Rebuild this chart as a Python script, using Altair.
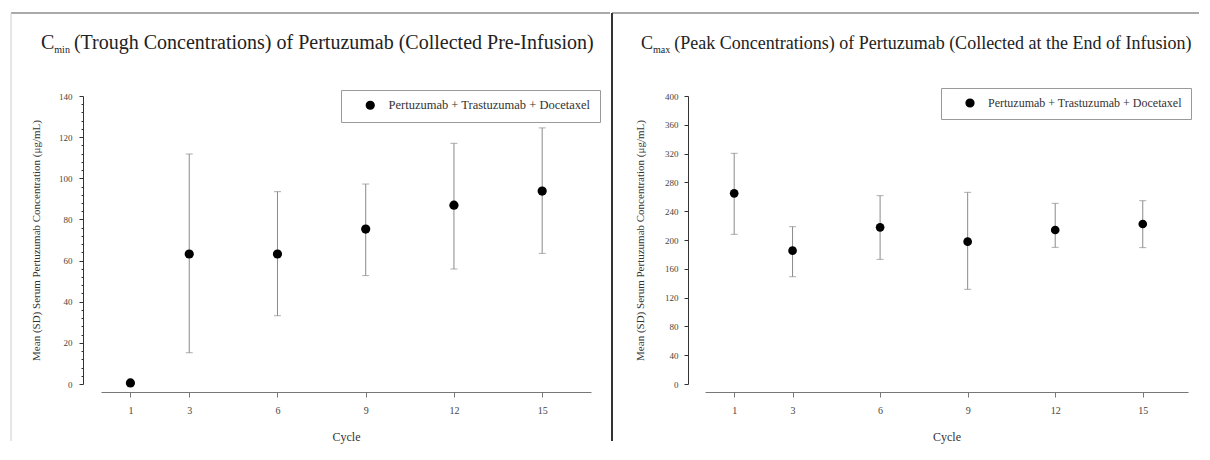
import altair as alt
import pandas as pd

# ---------------- data ----------------
cycles = [1, 3, 6, 9, 12, 15]
trough_mean = [0.5, 63.2, 63.2, 75.3, 86.9, 93.8]
trough_lo = [None, 15.2, 33.2, 52.7, 55.9, 63.5]
trough_hi = [None, 111.8, 93.5, 97.2, 117.0, 124.5]
peak_mean = [264.8, 185.2, 217.6, 197.7, 213.9, 222.2]
peak_lo = [207.9, 149.0, 173.1, 131.5, 189.8, 189.4]
peak_hi = [320.4, 218.5, 261.6, 266.2, 250.9, 254.6]
group = "Pertuzumab + Trastuzumab + Docetaxel"
left_title = ["C", "min", "(Trough Concentrations) of Pertuzumab (Collected Pre-Infusion)"]
right_title = ["C", "max", "(Peak Concentrations) of Pertuzumab (Collected at the End of Infusion)"]
y_title = "Mean (SD) Serum Pertuzumab Concentration (μg/mL)"
x_title = "Cycle"
left_yticks = list(range(0, 141, 4))
right_yticks = list(range(0, 401, 40))

SERIF = "Liberation Serif"
BAR = "#8a8a8a"


def panel(mean, lo, hi, ymax, yticks, major, xmax, width, title, title_x, title_size,
          sub_w, y_offset, label_pad, title_pad, legend_x, legend_y, legend_font, pt_size,
          borders, minor):
    df = pd.DataFrame({"cycle": cycles, "mean": mean, "lo": lo, "hi": hi,
                       "grp": [group] * len(cycles)})
    xs = alt.Scale(domain=[0, xmax], nice=False, zero=False)
    xa = alt.Axis(values=cycles, title=x_title, offset=8, tickSize=5, grid=False,
                  labelPadding=8, labelFontSize=10, titleFontSize=12,
                  titlePadding=16, domainColor="#777", tickColor="#777",
                  labelColor="#444", labelAngle=0, labelFont=SERIF, titleFont=SERIF,
                  titleFontWeight="normal", titleColor="#333")
    ys = alt.Scale(domain=[0, ymax], nice=False, zero=True)
    if minor:
        tick_size = {"condition": {"test": f"datum.value % {major} === 0", "value": 4}, "value": 2}
    else:
        tick_size = 4
    ya = alt.Axis(values=yticks, title=y_title, offset=y_offset, grid=False,
                  labelExpr=f"datum.value % {major} === 0 ? datum.label : ''",
                  tickSize=tick_size, labelPadding=label_pad, labelFontSize=9,
                  titleFontSize=11, titlePadding=title_pad,
                  domainColor="#333", tickColor="#333", labelColor="#444",
                  labelFont=SERIF, titleFont=SERIF, titleFontWeight="normal",
                  titleColor="#333")
    x = alt.X("cycle:Q", scale=xs, axis=xa)
    base = alt.Chart(df)
    bars = base.mark_rule(color=BAR, strokeWidth=1).encode(
        x=x, y=alt.Y("lo:Q", scale=ys, axis=ya), y2="hi:Q")
    cap_lo = base.mark_tick(orient="horizontal", size=7, thickness=1, color=BAR).encode(
        x=x, y=alt.Y("lo:Q", scale=ys, axis=ya))
    cap_hi = base.mark_tick(orient="horizontal", size=7, thickness=1, color=BAR).encode(
        x=x, y=alt.Y("hi:Q", scale=ys, axis=ya))
    pts = base.mark_point(filled=True, size=pt_size, opacity=1, shape="circle").encode(
        x=x, y=alt.Y("mean:Q", scale=ys, axis=ya),
        color=alt.Color("grp:N", scale=alt.Scale(range=["black"]),
                        legend=alt.Legend(title=None, orient="none", legendX=legend_x,
                                          legendY=legend_y, direction="vertical",
                                          strokeColor="#999", fillColor="white",
                                          padding=9, symbolType="circle", symbolSize=60,
                                          symbolFillColor="black", symbolStrokeColor="black",
                                          symbolOffset=14, labelOffset=12, labelLimit=0,
                                          labelFont=SERIF, labelFontSize=legend_font,
                                          labelColor="#333")))
    c_w = 0.667 * title_size
    t_main = alt.Chart(pd.DataFrame({"t": [title[0]]})).mark_text(
        align="left", baseline="alphabetic", font=SERIF, fontSize=title_size, color="#222").encode(
        x=alt.value(title_x), y=alt.value(-47), text="t:N")
    t_sub = alt.Chart(pd.DataFrame({"t": [title[1]]})).mark_text(
        align="left", baseline="alphabetic", font=SERIF, fontSize=10, color="#222").encode(
        x=alt.value(title_x + c_w), y=alt.value(-43), text="t:N")
    t_rest = alt.Chart(pd.DataFrame({"t": [title[2]]})).mark_text(
        align="left", baseline="alphabetic", font=SERIF, fontSize=title_size, color="#222").encode(
        x=alt.value(title_x + c_w + sub_w + 4), y=alt.value(-47), text="t:N")
    layers = [bars, cap_lo, cap_hi, pts, t_main, t_sub, t_rest]
    for (x1, x2, y1, y2, col, sw) in borders:
        enc = dict(x=alt.value(x1), y=alt.value(y1))
        if x2 is not None:
            enc["x2"] = alt.value(x2)
        if y2 is not None:
            enc["y2"] = alt.value(y2)
        layers.append(alt.Chart(pd.DataFrame({"k": [0]})).mark_rule(
            color=col, strokeWidth=sw).encode(**enc))
    return alt.layer(*layers).properties(width=width, height=288)


left = panel(trough_mean, trough_lo, trough_hi, 140, left_yticks, 20, 16.66, 490,
             left_title, -60, 20, 15.6, 18, 7, 17, 240, -6, 12.5, 85,
             [(-90, 509, -83, None, "#aaa", 2), (-90, None, -83, 345, "#ccc", 1)], True)
right = panel(peak_mean, peak_lo, peak_hi, 400, right_yticks, 40, 16.55, 483,
              right_title, -64, 18, 17.2, 17, 6, 19, 236, -8, 12, 75,
              [(-93, 494, -83, None, "#aaa", 2), (-93, None, -83, 345, "#333", 2)], False)

chart = alt.hconcat(left, right, spacing=0).resolve_scale(color="independent").resolve_legend(
    color="independent").properties(
    padding={"left": 2, "top": 4, "right": 2, "bottom": 2}, background="white"
).configure_view(stroke=None).configure_axis(
    grid=False, labelFont=SERIF, titleFont=SERIF, titleFontWeight="normal", titleColor="#333"
)

chart.save("out.html", embed_options={"renderer": "svg", "actions": False})
